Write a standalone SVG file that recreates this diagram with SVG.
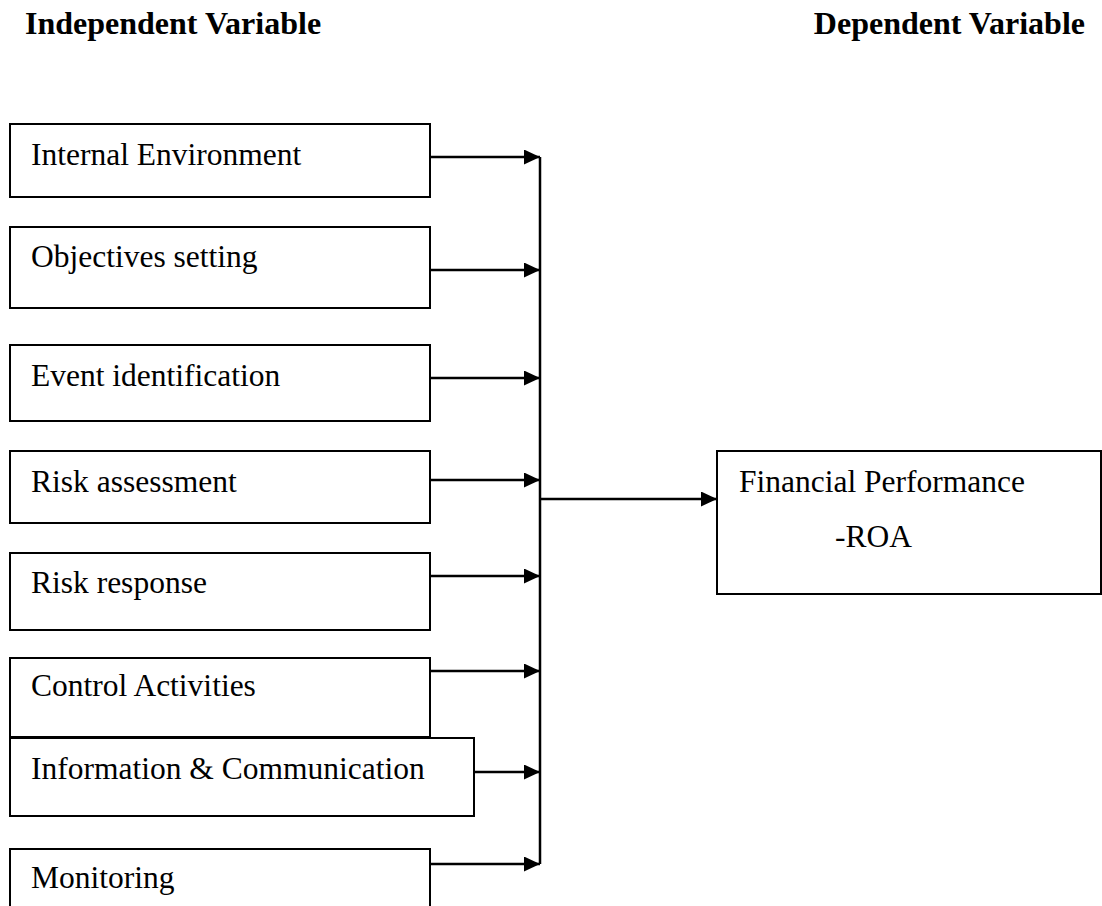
<svg xmlns="http://www.w3.org/2000/svg" width="1102" height="906" viewBox="0 0 1102 906">
<style>
.box{fill:#fff;stroke:#000;stroke-width:2}
.t{font-family:"Liberation Serif","Times New Roman",serif;font-size:31.5px;fill:#000}
.h{font-family:"Liberation Serif","Times New Roman",serif;font-size:32px;font-weight:bold;fill:#000}
.c{stroke:#000;stroke-width:2.5;fill:none}
</style>
<defs>
<marker id="ah" markerWidth="16" markerHeight="15" refX="16" refY="7.5" orient="auto" markerUnits="userSpaceOnUse">
<path d="M0,0 L16,7.5 L0,15 Z" fill="#000"/>
</marker>
</defs>
<rect width="1102" height="906" fill="#fff"/>
<text class="h" x="25" y="34">Independent Variable</text>
<text class="h" x="1085" y="34" text-anchor="end">Dependent Variable</text>
<g id="n1"><rect class="box" x="10" y="124" width="420" height="73"/><text class="t" x="31" y="165">Internal Environment</text></g>
<g id="n2"><rect class="box" x="10" y="227" width="420" height="81"/><text class="t" x="31" y="267">Objectives setting</text></g>
<g id="n3"><rect class="box" x="10" y="345" width="420" height="76"/><text class="t" x="31" y="386">Event identification</text></g>
<g id="n4"><rect class="box" x="10" y="451" width="420" height="72"/><text class="t" x="31" y="492">Risk assessment</text></g>
<g id="n5"><rect class="box" x="10" y="553" width="420" height="77"/><text class="t" x="31" y="593">Risk response</text></g>
<g id="n6"><rect class="box" x="10" y="658" width="420" height="79"/><text class="t" x="31" y="696">Control Activities</text></g>
<g id="n7"><rect class="box" x="10" y="738" width="464" height="78"/><text class="t" x="31" y="779">Information &amp; Communication</text></g>
<g id="n8"><rect class="box" x="10" y="849" width="420" height="70"/><text class="t" x="31" y="888">Monitoring</text></g>
<g id="n9"><rect class="box" x="717" y="451" width="384" height="143"/><text class="t" x="739" y="492">Financial Performance</text><text class="t" x="835" y="547">-ROA</text></g>
<g id="connectors">
<line class="c" x1="540" y1="157" x2="540" y2="864"/>
<line class="c" x1="430" y1="157" x2="540" y2="157" marker-end="url(#ah)"/>
<line class="c" x1="430" y1="270" x2="540" y2="270" marker-end="url(#ah)"/>
<line class="c" x1="430" y1="378" x2="540" y2="378" marker-end="url(#ah)"/>
<line class="c" x1="430" y1="480" x2="540" y2="480" marker-end="url(#ah)"/>
<line class="c" x1="430" y1="576" x2="540" y2="576" marker-end="url(#ah)"/>
<line class="c" x1="430" y1="671" x2="540" y2="671" marker-end="url(#ah)"/>
<line class="c" x1="474" y1="772" x2="540" y2="772" marker-end="url(#ah)"/>
<line class="c" x1="430" y1="864" x2="540" y2="864" marker-end="url(#ah)"/>
<line class="c" x1="540" y1="499" x2="717" y2="499" marker-end="url(#ah)"/>
</g>
</svg>
